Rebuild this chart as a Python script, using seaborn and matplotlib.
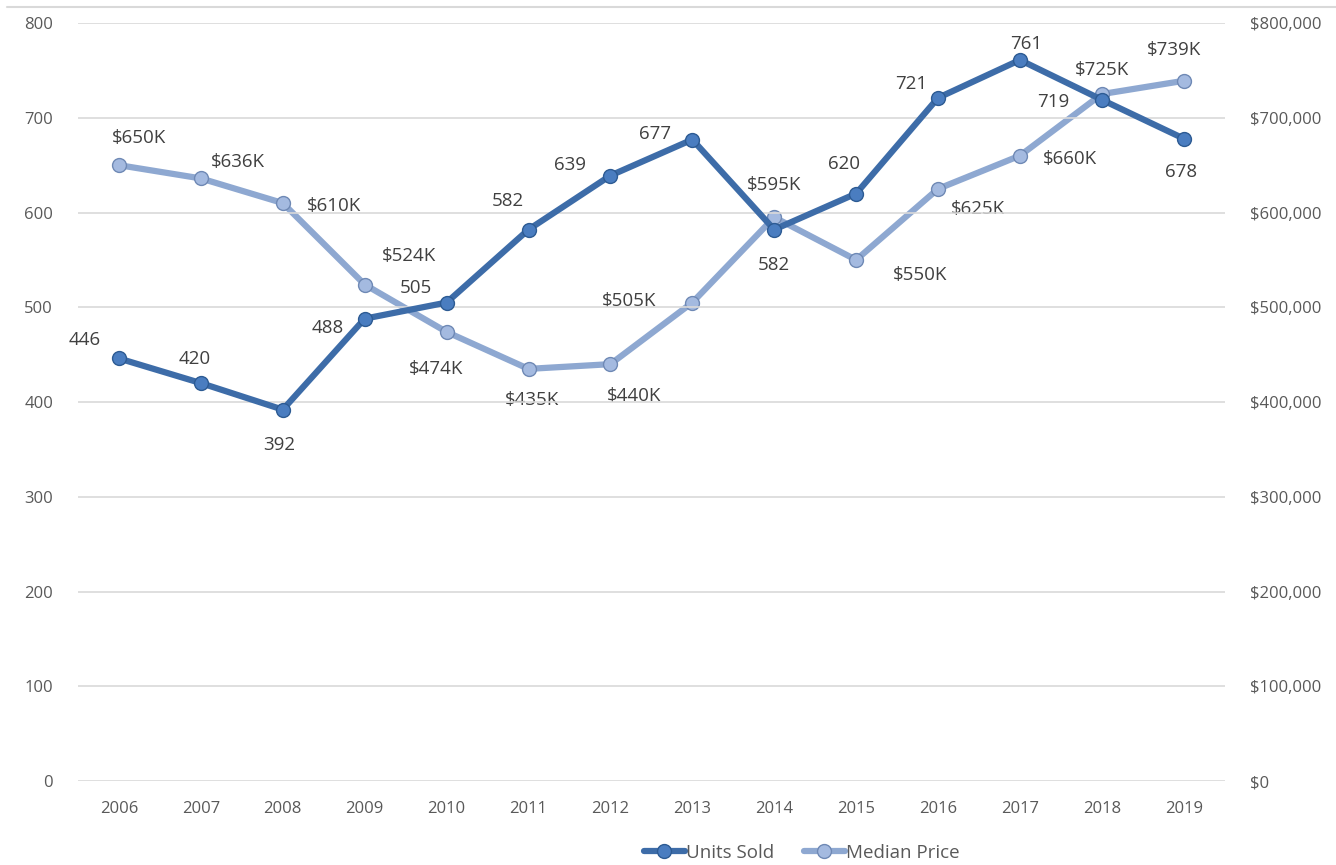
import pandas as pd
import seaborn as sns
import matplotlib.pyplot as plt
from matplotlib.lines import Line2D
from matplotlib.ticker import FuncFormatter

# data
years = [2006, 2007, 2008, 2009, 2010, 2011, 2012, 2013, 2014, 2015, 2016, 2017, 2018, 2019]
units_sold = [446, 420, 392, 488, 505, 582, 639, 677, 582, 620, 721, 761, 719, 678]
median_price_k = [650, 636, 610, 524, 474, 435, 440, 505, 595, 550, 625, 660, 725, 739]

# label offsets in pixels (dx right, dy down) from each point
units_off = [(-34, -18), (-6, -24), (-4, 35), (-37, 9), (-31, -15), (-21, -29), (-40, -11),
             (-37, -6), (0, 35), (-12, -30), (-27, -14), (6, -16), (-49, 2), (-3, 33)]
price_off = [(20, -27), (37, -16), (51, 3), (44, -29), (-11, 37), (3, 31), (24, 32),
             (-63, -2), (0, -32), (64, 15), (40, 20), (50, 3), (0, -24), (-10, -31)]

dark = '#3D6CA8'
light = '#8EA8D1'
grey = '#595959'

sns.set_theme(style='white')
plt.rcParams['font.family'] = ['Open Sans', 'DejaVu Sans']

df = pd.DataFrame({'year': years, 'units': units_sold, 'price': [p * 1000 for p in median_price_k]})

fig = plt.figure(figsize=(13.36, 8.65), dpi=100)
ax = fig.add_axes([0.0584, 0.097, 0.8583, 0.8764])
ax2 = ax.twinx()

for y in range(0, 900, 100):
    ax.axhline(y, color='#D9D9D9', lw=1.2, zorder=0)

mk_dark = dict(marker='o', markersize=10, markerfacecolor='#4A7DC0', markeredgecolor='#2D5B93', markeredgewidth=1)
mk_light = dict(marker='o', markersize=10, markerfacecolor='#A4BAE0', markeredgecolor='#6F89B5', markeredgewidth=1)

sns.lineplot(data=df, x='year', y='units', ax=ax, color=dark, lw=4.5, zorder=3, **mk_dark)
sns.lineplot(data=df, x='year', y='price', ax=ax2, color=light, lw=4.5, zorder=3, **mk_light)

ax.set_xlim(2005.5, 2019.5)
ax.set_ylim(0, 800)
ax2.set_ylim(0, 800000)
ax.set_xticks(years)
ax.set_xticklabels([str(y) for y in years])
ax.set_yticks(range(0, 900, 100))
ax2.set_yticks(range(0, 900000, 100000))
ax2.yaxis.set_major_formatter(FuncFormatter(lambda v, p: '$0' if v == 0 else '${:,.0f}'.format(v)))
ax.set_xlabel('')
ax.set_ylabel('')
ax2.set_ylabel('')
for a in (ax, ax2):
    for s in a.spines.values():
        s.set_visible(False)
    a.tick_params(length=0, labelsize=12, colors=grey)
    a.grid(False)
ax.tick_params(axis='y', pad=18)
ax.tick_params(axis='x', pad=14)
ax2.tick_params(axis='y', pad=18)
ax.set_zorder(ax2.get_zorder() + 1)
ax.patch.set_visible(False)

px = 72 / 100  # pixels -> points
for x, v, (dx, dy) in zip(years, units_sold, units_off):
    ax.annotate(str(v), (x, v), xytext=(dx * px, -dy * px), textcoords='offset points',
                ha='center', va='center', fontsize=13.5, color='#404040')
for x, v, (dx, dy) in zip(years, median_price_k, price_off):
    ax2.annotate('${}K'.format(v), (x, v * 1000), xytext=(dx * px, -dy * px), textcoords='offset points',
                 ha='center', va='center', fontsize=13.5, color='#404040')

handles = [Line2D([], [], color=dark, lw=4.5, **mk_dark),
           Line2D([], [], color=light, lw=4.5, **mk_light)]
fig.legend(handles, ['Units Sold', 'Median Price'], loc='center', bbox_to_anchor=(0.600, 0.014),
           ncol=2, frameon=False, fontsize=13.5, handlelength=2.2, handletextpad=0.05, columnspacing=1.6,
           labelcolor=grey)

fig.add_artist(Line2D([0.005, 1], [0.992, 0.992], color='#D9D9D9', lw=1.5, transform=fig.transFigure))

fig.savefig('out.png', dpi=100)
